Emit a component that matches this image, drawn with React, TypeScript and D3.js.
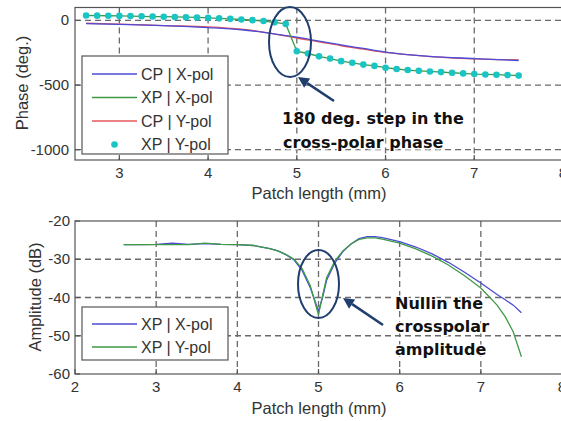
import React from "react";
import * as d3 from "d3";

// ---------- Phase plot data ----------
const phaseDotX = [
  2.625, 2.75, 2.875, 3.0, 3.125, 3.25, 3.375, 3.5, 3.625, 3.75,
  3.875, 4.0, 4.125, 4.25, 4.375, 4.5, 4.625, 4.75, 4.875, 5.0,
  5.125, 5.25, 5.375, 5.5, 5.625, 5.75, 5.875, 6.0, 6.125, 6.25,
  6.375, 6.5, 6.625, 6.75, 6.875, 7.0, 7.125, 7.25, 7.375, 7.5,
];
const xpYpolPhase = [
  38, 37, 36, 35, 34, 32, 30, 29, 27, 25,
  23, 20, 16, 12, 7, 2, -5, -15, -27, -238,
  -256, -278, -295, -315, -328, -342, -352, -366, -376, -384,
  -390, -395, -400, -405, -410, -415, -418, -420, -423, -427,
];
const xpXpolPhase = [
  38, 37, 36, 35, 34, 32, 30, 29, 27, 25,
  23, 20, 16, 12, 7, 2, -5, -15, -27, -238,
  -256, -278, -295, -315, -328, -342, -352, -366, -376, -384,
  -390, -395, -400, -405, -410, -415, -418, -420, -423, -427,
];
const cpX = [2.625, 3.0, 3.5, 4.0, 4.375, 4.625, 4.875, 5.0, 5.25, 5.5, 5.75, 6.0, 6.5, 7.0, 7.5];
const cpXpolPhase = [-25, -30, -40, -55, -72, -92, -117, -130, -160, -190, -217, -245, -278, -295, -310];
const cpYpolPhase = [-22, -28, -40, -50, -68, -90, -120, -136, -165, -196, -222, -248, -280, -297, -305];

const phaseXTicks = [3, 4, 5, 6, 7, 8];
const phaseYTicks = [0, -500, -1000];

// ---------- Amplitude plot data ----------
const ampX = [
  2.6, 2.8, 3.0, 3.2, 3.4, 3.6, 3.8, 4.0, 4.2, 4.4, 4.5, 4.6, 4.7, 4.8, 4.9,
  5.0, 5.05, 5.1, 5.2, 5.3, 5.4, 5.5, 5.6, 5.7, 5.8, 6.0, 6.2, 6.4, 6.6, 6.8,
  7.0, 7.2, 7.3, 7.4, 7.5,
];
const xpXpolAmp = [
  -26.2, -26.2, -26.1, -25.8, -26.1, -25.9, -26.1, -26.2, -26.4, -27.2, -27.8, -28.8, -30.2, -33.0, -37.5,
  -43.5, -40.0, -35.5, -31.0, -28.0, -26.0, -24.6, -24.1, -24.1, -24.4, -25.4, -26.8, -28.6, -30.8, -33.4,
  -36.2, -39.2, -40.6, -42.0, -44.0,
];
const xpYpolAmp = [
  -26.2, -26.2, -26.2, -26.2, -26.2, -25.8, -26.1, -26.2, -26.4, -27.2, -27.8, -28.8, -30.0, -32.5, -37.0,
  -44.5, -39.5, -34.8, -30.5, -27.8, -26.0, -24.8, -24.4, -24.4, -24.8, -25.8, -27.3, -29.2, -31.5, -34.3,
  -37.5, -42.0, -45.0, -49.0, -55.5,
];
const ampXTicks = [2, 3, 4, 5, 6, 7, 8];
const ampYTicks = [-20, -30, -40, -50, -60];

const phaseLegend = ["CP | X-pol", "XP | X-pol", "CP | Y-pol", "XP | Y-pol"];
const ampLegend = ["XP | X-pol", "XP | Y-pol"];

const BLUE = "#4b4bd6";
const GREEN = "#3f9a45";
const RED = "#e5585a";
const CYAN = "#19c4c4";
const NAVY = "#1f3e6e";
const AXIS = "#555";
const GRID = "#6a6a6a";
const TXT = "#333";
const FONT = "'Liberation Sans', Arial, sans-serif";
const BOLDFONT = "'DejaVu Sans', sans-serif";

export default function App() {
  // top
  const xP = d3.scaleLinear().domain([2.5, 8]).range([75, 563]);
  const yP = d3.scaleLinear().domain([-1080, 100]).range([160, 7.5]);
  // bottom
  const xA = d3.scaleLinear().domain([2, 8]).range([75, 562]);
  const yA = d3.scaleLinear().domain([-60, -20]).range([374, 221]);

  const lineP = (xs: number[], ys: number[], curve = d3.curveLinear) =>
    d3.line<number>().x((_, i) => xP(xs[i])).y((v) => yP(v)).curve(curve)(ys) || "";
  const lineA = (xs: number[], ys: number[]) =>
    d3.line<number>().x((_, i) => xA(xs[i])).y((v) => yA(v))(ys) || "";

  const dash = "6,4";

  const arrow = (x1: number, y1: number, x2: number, y2: number) => {
    const ang = Math.atan2(y2 - y1, x2 - x1);
    const L = 11, W = 5.5;
    const bx = x2 - L * Math.cos(ang), by = y2 - L * Math.sin(ang);
    const p1 = [bx + W * Math.sin(ang), by - W * Math.cos(ang)];
    const p2 = [bx - W * Math.sin(ang), by + W * Math.cos(ang)];
    return (
      <g>
        <line x1={x1} y1={y1} x2={bx} y2={by} stroke={NAVY} strokeWidth={2.5} />
        <polygon points={`${x2},${y2} ${p1[0]},${p1[1]} ${p2[0]},${p2[1]}`} fill={NAVY} />
      </g>
    );
  };

  const haloText = (x: number, y: number, s: string, key?: string) => (
    <text key={key} x={x} y={y} fontFamily={BOLDFONT} fontWeight="bold" fontSize={16}
      fill="#111" stroke="#fff" strokeWidth={3} style={{ paintOrder: "stroke" }}>{s}</text>
  );

  const [pL, pR, pT, pB] = [75, 563, 7.5, 160];
  const [aL, aR, aT, aB] = [75, 562, 221, 374];

  return (
    <svg width={561} height={421} style={{ position: "absolute", left: 0, top: 0, background: "#fff" }}>
      <rect x={0} y={0} width={561} height={421} fill="#fff" />
      {/* ===== TOP PLOT ===== */}
      <g>
        {phaseXTicks.filter((t) => t < 8).map((t) => (
          <line key={"pvx" + t} x1={xP(t)} x2={xP(t)} y1={pT} y2={pB} stroke={GRID} strokeWidth={1.3} strokeDasharray={dash} />
        ))}
        {phaseYTicks.map((t) => (
          <line key={"pgy" + t} x1={pL} x2={pR} y1={yP(t)} y2={yP(t)} stroke={GRID} strokeWidth={1.3} strokeDasharray={dash} />
        ))}
        <path d={lineP(cpX, cpYpolPhase, d3.curveMonotoneX)} fill="none" stroke={RED} strokeWidth={1.3} />
        <path d={lineP(cpX, cpXpolPhase, d3.curveMonotoneX)} fill="none" stroke={BLUE} strokeWidth={1.3} />
        <path d={lineP(phaseDotX, xpXpolPhase)} fill="none" stroke={GREEN} strokeWidth={1.3} />
        {xpYpolPhase.map((v, i) => (
          <circle key={"dot" + i} cx={xP(phaseDotX[i])} cy={yP(v)} r={3.3} fill={CYAN} />
        ))}
        {/* frame */}
        <rect x={pL} y={pT} width={pR - pL} height={pB - pT} fill="none" stroke={AXIS} strokeWidth={1.2} />
        {phaseXTicks.map((t) => (
          <g key={"ptx" + t}>
            <line x1={xP(t)} x2={xP(t)} y1={pB} y2={pB - 5} stroke={AXIS} strokeWidth={1.2} />
            <text x={xP(t)} y={pB + 18} textAnchor="middle" fontFamily={FONT} fontSize={15} fill={TXT}>{t}</text>
          </g>
        ))}
        {phaseYTicks.map((t) => (
          <g key={"pty" + t}>
            <line x1={pL} x2={pL + 5} y1={yP(t)} y2={yP(t)} stroke={AXIS} strokeWidth={1.2} />
            <text x={pL - 6} y={yP(t) + 5} textAnchor="end" fontFamily={FONT} fontSize={15} fill={TXT}>{t}</text>
          </g>
        ))}
        <text x={319} y={199} textAnchor="middle" fontFamily={FONT} fontSize={16.5} fill={TXT}>Patch length (mm)</text>
        <text transform="translate(28,83) rotate(-90)" textAnchor="middle" fontFamily={FONT} fontSize={16.5} fill={TXT}>Phase (deg.)</text>
        {/* legend */}
        <rect x={82} y={56} width={146} height={98} fill="#fff" stroke={AXIS} strokeWidth={1.2} />
        {phaseLegend.map((s, i) => {
          const y = 74 + i * 23.5;
          const col = [BLUE, GREEN, RED, CYAN][i];
          return (
            <g key={"pl" + i}>
              {i < 3 ? (
                <line x1={92} x2={137} y1={y} y2={y} stroke={col} strokeWidth={1.3} />
              ) : (
                <circle cx={114.5} cy={y} r={3.3} fill={col} />
              )}
              <text x={141} y={y + 5.5} fontFamily={FONT} fontSize={16} fill={TXT}>{s}</text>
            </g>
          );
        })}
        {/* annotation */}
        <ellipse cx={290} cy={42} rx={21} ry={35} fill="none" stroke={NAVY} strokeWidth={2} />
        {arrow(334, 101, 298, 77)}
        {haloText(282, 124, "180 deg. step in the")}
        {haloText(283, 148, "cross-polar phase")}
      </g>

      {/* ===== BOTTOM PLOT ===== */}
      <g>
        {ampXTicks.filter((t) => t > 2 && t < 8).map((t) => (
          <line key={"avx" + t} x1={xA(t)} x2={xA(t)} y1={aT} y2={aB} stroke={GRID} strokeWidth={1.3} strokeDasharray={dash} />
        ))}
        {ampYTicks.filter((t) => t > -60 && t < -20).map((t) => (
          <line key={"agy" + t} x1={aL} x2={aR} y1={yA(t)} y2={yA(t)} stroke={GRID} strokeWidth={1.3} strokeDasharray={dash} />
        ))}
        <path d={lineA(ampX, xpXpolAmp)} fill="none" stroke={BLUE} strokeWidth={1.3} />
        <path d={lineA(ampX, xpYpolAmp)} fill="none" stroke={GREEN} strokeWidth={1.3} />
        <rect x={aL} y={aT} width={aR - aL} height={aB - aT} fill="none" stroke={AXIS} strokeWidth={1.2} />
        {ampXTicks.map((t) => (
          <g key={"atx" + t}>
            <line x1={xA(t)} x2={xA(t)} y1={aB} y2={aB - 5} stroke={AXIS} strokeWidth={1.2} />
            <text x={xA(t)} y={aB + 18} textAnchor="middle" fontFamily={FONT} fontSize={15} fill={TXT}>{t}</text>
          </g>
        ))}
        {ampYTicks.map((t) => (
          <g key={"aty" + t}>
            <line x1={aL} x2={aL + 5} y1={yA(t)} y2={yA(t)} stroke={AXIS} strokeWidth={1.2} />
            <text x={aL - 5} y={yA(t) + 5} textAnchor="end" fontFamily={FONT} fontSize={15} fill={TXT}>{t}</text>
          </g>
        ))}
        <text x={319} y={414} textAnchor="middle" fontFamily={FONT} fontSize={16.5} fill={TXT}>Patch length (mm)</text>
        <text transform="translate(41,297) rotate(-90)" textAnchor="middle" fontFamily={FONT} fontSize={16.5} fill={TXT}>Amplitude (dB)</text>
        <rect x={82} y={307} width={146} height={53} fill="#fff" stroke={AXIS} strokeWidth={1.2} />
        {ampLegend.map((s, i) => {
          const y = 324 + i * 23;
          const col = [BLUE, GREEN][i];
          return (
            <g key={"al" + i}>
              <line x1={92} x2={137} y1={y} y2={y} stroke={col} strokeWidth={1.3} />
              <text x={141} y={y + 5.5} fontFamily={FONT} fontSize={16} fill={TXT}>{s}</text>
            </g>
          );
        })}
        <ellipse cx={318.5} cy={284} rx={20.5} ry={34} fill="none" stroke={NAVY} strokeWidth={2} />
        {arrow(383, 325, 343, 298)}
        {haloText(395, 309, "Nullin the")}
        {haloText(395, 332, "crosspolar")}
        {haloText(395, 355, "amplitude")}
      </g>
    </svg>
  );
}
